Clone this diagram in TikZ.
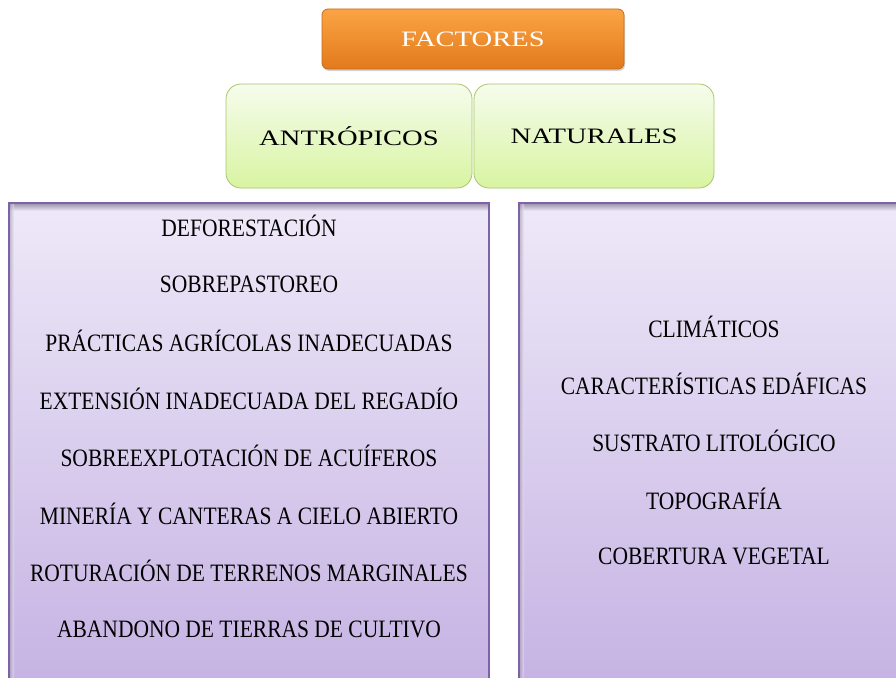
\documentclass[tikz,border=0pt]{standalone}
\usepackage{fontspec}
\setmainfont{Liberation Serif}
\newfontfamily\condfont[FakeStretch=0.86]{Liberation Serif}
\newfontfamily\widefont[FakeStretch=1.3]{Liberation Serif}
\usetikzlibrary{shadows}
\definecolor{orTop}{HTML}{FBA445}
\definecolor{orBot}{HTML}{E27A1C}
\definecolor{orLine}{HTML}{C86A1A}
\definecolor{grTop}{HTML}{F6FCEC}
\definecolor{grBot}{HTML}{D8F4A2}
\definecolor{grLine}{HTML}{A9C46E}
\definecolor{puTop}{HTML}{EEE9F8}
\definecolor{puBot}{HTML}{C5B2E3}
\definecolor{puLine}{HTML}{7E62A8}
\definecolor{puShade}{HTML}{9A8FA8}
\tikzset{
  titlebox/.style={draw=orLine, line width=0.8pt, rounded corners=6pt, top color=orTop, bottom color=orBot,
    minimum width=302pt, minimum height=60pt, inner sep=0pt, text=white, font=\widefont\fontsize{22}{24}\selectfont,
    drop shadow={shadow xshift=1pt, shadow yshift=-2pt, opacity=0.35}},
  catbox/.style={draw=grLine, line width=0.8pt, rounded corners=15pt, top color=grTop, bottom color=grBot,
    minimum height=104pt, inner sep=0pt, font=\widefont\fontsize{22}{24}\selectfont},
  item/.style={font=\condfont\fontsize{25}{27}\selectfont, inner sep=0pt, anchor=center}
}
\begin{document}
\begin{tikzpicture}[x=1pt,y=-1pt]
\useasboundingbox (0,0) rectangle (896,677);
\clip (0,0) rectangle (896,677);
\node[titlebox] (factores) at (473,39) {FACTORES};
\node[catbox, minimum width=246pt] (antro) at (349,136) {ANTRÓPICOS};
\node[catbox, minimum width=240pt] (natu) at (594,136) {NATURALES};
% left list panel
\shade[top color=puTop, bottom color=puBot] (9,203) rectangle (489,690);
\shade[top color=puShade, bottom color=puTop] (9,203) rectangle (489,211);
\shade[left color=puShade, right color=puTop, opacity=0.6] (9,203) rectangle (14,690);
\draw[puLine, line width=1.5pt] (9,690) -- (9,203) -- (489,203) -- (489,690);
% right list panel
\shade[top color=puTop, bottom color=puBot] (519,203) rectangle (910,690);
\shade[top color=puShade, bottom color=puTop] (519,203) rectangle (910,211);
\shade[left color=puShade, right color=puTop, opacity=0.6] (519,203) rectangle (524,690);
\draw[puLine, line width=1.5pt] (519,690) -- (519,203) -- (910,203);
\node[item] (a1) at (249,226) {DEFORESTACIÓN};
\node[item] (a2) at (249,284) {SOBREPASTOREO};
\node[item] (a3) at (249,341) {PRÁCTICAS AGRÍCOLAS INADECUADAS};
\node[item] (a4) at (249,399) {EXTENSIÓN INADECUADA DEL REGADÍO};
\node[item] (a5) at (249,456) {SOBREEXPLOTACIÓN DE ACUÍFEROS};
\node[item] (a6) at (249,514) {MINERÍA Y CANTERAS A CIELO ABIERTO};
\node[item] (a7) at (249,571) {ROTURACIÓN DE TERRENOS MARGINALES};
\node[item] (a8) at (249,629) {ABANDONO DE TIERRAS DE CULTIVO};
\node[item] (n1) at (714,327) {CLIMÁTICOS};
\node[item] (n2) at (714,384) {CARACTERÍSTICAS EDÁFICAS};
\node[item] (n3) at (714,441) {SUSTRATO LITOLÓGICO};
\node[item] (n4) at (714,499) {TOPOGRAFÍA};
\node[item] (n5) at (714,556) {COBERTURA VEGETAL};
\end{tikzpicture}
\end{document}
